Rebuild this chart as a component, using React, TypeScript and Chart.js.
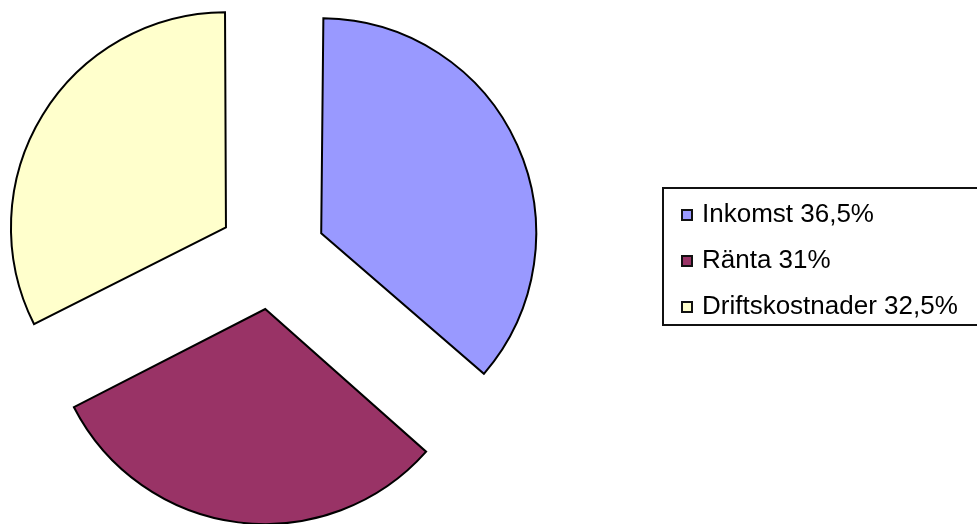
import React, { useEffect, useRef } from "react";
import { Chart, registerables } from "chart.js";

Chart.register(...registerables);

const categories = ["Inkomst", "Ränta", "Driftskostnader"];
const shares = [36.5, 31, 32.5];
const legendLabels = ["Inkomst 36,5%", "Ränta 31%", "Driftskostnader 32,5%"];
const sliceColors = ["#9999FF", "#993366", "#FFFFCC"];

const PIE_RADIUS = 215;
const EXPLODE = 54;

// Chart.js adds offset*(1-sin(circumference)) to each arc radius; undo it so every slice has the same radius
const equalRadiusPlugin = {
  id: "equalRadius",
  beforeDatasetsDraw(chart: any) {
    const meta = chart.getDatasetMeta(0);
    meta.data.forEach((arc: any) => {
      const off = (arc.options.offset || 0) / 4;
      const fix = 1 - Math.sin(Math.min(Math.PI, arc.circumference || 0));
      arc.outerRadius = PIE_RADIUS - off * fix;
    });
  },
};

export default function App() {
  const canvasRef = useRef<HTMLCanvasElement | null>(null);

  useEffect(() => {
    if (!canvasRef.current) return;
    const chart = new Chart(canvasRef.current, {
      type: "pie",
      data: {
        labels: categories,
        datasets: [
          {
            data: shares,
            backgroundColor: sliceColors,
            borderColor: "#000000",
            borderWidth: 2,
            borderJoinStyle: "miter",
            offset: EXPLODE * 4,
            hoverOffset: 0,
            radius: PIE_RADIUS,
          } as any,
        ],
      },
      options: {
        responsive: false,
        animation: false,
        events: [],
        layout: { padding: { left: 0, top: 0, right: 433, bottom: 13 } },
        plugins: {
          legend: { display: false },
          tooltip: { enabled: false },
          title: { display: false },
        },
      },
      plugins: [equalRadiusPlugin],
    });
    return () => chart.destroy();
  }, []);

  const rowTops = [213, 259, 305];

  return (
    <div
      style={{
        position: "absolute",
        left: 0,
        top: 0,
        width: 977,
        height: 524,
        overflow: "hidden",
        background: "#ffffff",
      }}
    >
      <canvas ref={canvasRef} width={977} height={524} style={{ position: "absolute", left: 0, top: 0 }} />
      <div
        style={{
          position: "absolute",
          left: 662,
          top: 187,
          width: 340,
          height: 139,
          border: "2px solid #111",
          boxSizing: "border-box",
        }}
      />
      {legendLabels.map((label, i) => (
        <div
          key={label}
          style={{
            position: "absolute",
            left: 681,
            top: rowTops[i] - 16,
            height: 32,
            display: "flex",
            alignItems: "center",
            fontFamily: '"Liberation Sans", Arial, sans-serif',
            fontSize: 26,
            color: "#000",
            whiteSpace: "nowrap",
          }}
        >
          <span
            style={{
              display: "inline-block",
              width: 12,
              height: 12,
              background: sliceColors[i],
              border: "2px solid #111",
              boxSizing: "border-box",
              marginRight: 9,
              marginTop: 4,
            }}
          />
          <span>{label}</span>
        </div>
      ))}
    </div>
  );
}
